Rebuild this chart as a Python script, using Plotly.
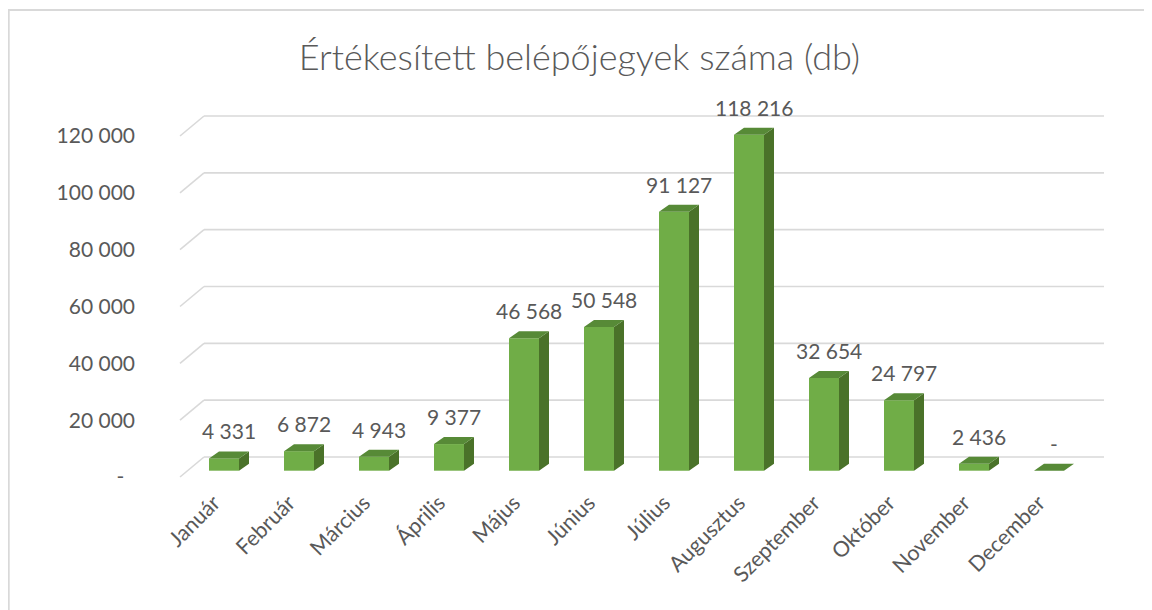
import plotly.graph_objects as go

# ---- data ----
months = ["Január", "Február", "Március", "Április", "Május", "Június",
          "Július", "Augusztus", "Szeptember", "Október", "November", "December"]
tickets = [4331, 6872, 4943, 9377, 46568, 50548, 91127, 118216, 32654, 24797, 2436, 0]
y_ticks = [0, 20000, 40000, 60000, 80000, 100000, 120000]
title_text = "Értékesített belépőjegyek száma (db)"

# ---- styling / geometry (pixel-based pseudo 3D) ----
FONT = "Lato, 'Open Sans', sans-serif"
TXT = "#595959"
GRID = "#D9D9D9"
FRONT = "#70AD47"
TOP = "#578A37"
SIDE = "#4A7229"

OFF = 8  # page body margin compensation
W, H = 1152, 610
ML, MR, MT, MB = 133, 22, 87, 136
PX_X = 75.0                  # px per category
X0_PX = 224.0 - OFF          # px of category 0 centre
PX_Y = 341.0 / 120000        # px per value unit
BASE_PX = 470.7 - OFF        # px of value 0 at bar front

def xd(px):
    return (px - OFF - X0_PX) / PX_X

def yd_off(dpx):  # vertical pixel offset (up positive) -> value units
    return dpx / PX_Y

x_range = [(ML - X0_PX) / PX_X, (W - MR - X0_PX) / PX_X]
y_range = [-(H - MB - BASE_PX) / PX_Y, (BASE_PX - MT) / PX_Y]

bw = 0.4                 # bar width in category units (30 px)
ddx = 10 / PX_X          # depth offset x
ddy = yd_off(7)          # depth offset y
back_dy = yd_off(470.7 - 457)   # back wall offset
back_dx0 = xd(204)
back_dx1 = xd(1104)
front_dy = yd_off(470.7 - 477)
front_x = xd(180)

def fmt(v):
    if v == 0:
        return "-"
    return f"{v:,}".replace(",", " ")

fig = go.Figure()

# gridlines (back wall + floor diagonal)
shapes = []
for t in y_ticks:
    shapes.append(dict(type="line", xref="x", yref="y", layer="below",
                       x0=back_dx0, x1=back_dx1, y0=t + back_dy, y1=t + back_dy,
                       line=dict(color=GRID, width=1.6)))
    shapes.append(dict(type="line", xref="x", yref="y", layer="below",
                       x0=front_x, x1=back_dx0, y0=t + front_dy, y1=t + back_dy,
                       line=dict(color=GRID, width=1.6)))
# chart border
pw, ph = W - ML - MR, H - MT - MB
shapes.append(dict(type="rect", xref="paper", yref="paper",
                   x0=(0.8 - ML) / pw, x1=(W + 20 - ML) / pw,
                   y0=-(MB + 20) / ph, y1=(H - MB - 2) / ph,
                   line=dict(color=GRID, width=1.8), layer="below"))

xs = list(range(len(months)))

# front faces
fig.add_trace(go.Bar(x=xs, y=tickets, width=bw, marker=dict(color=FRONT, line=dict(width=0)),
                     hoverinfo="skip", showlegend=False))

# top and side faces
tx, ty, sx, sy = [], [], [], []
for i, v in zip(xs, tickets):
    tx += [i - bw / 2, i + bw / 2, i + bw / 2 + ddx, i - bw / 2 + ddx, i - bw / 2, None]
    ty += [v, v, v + ddy, v + ddy, v, None]
    sx += [i + bw / 2, i + bw / 2, i + bw / 2 + ddx, i + bw / 2 + ddx, i + bw / 2, None]
    sy += [0, v, v + ddy, ddy, 0, None]
fig.add_trace(go.Scatter(x=sx, y=sy, mode="lines", fill="toself", fillcolor=SIDE,
                         line=dict(width=0, color=SIDE), hoverinfo="skip", showlegend=False))
fig.add_trace(go.Scatter(x=tx, y=ty, mode="lines", fill="toself", fillcolor=TOP,
                         line=dict(width=0, color=TOP), hoverinfo="skip", showlegend=False))

# data labels
annotations = []
for i, v in zip(xs, tickets):
    annotations.append(dict(x=i + ddx / 2, y=v + ddy, xref="x", yref="y", text=fmt(v),
                            showarrow=False, yanchor="bottom", yshift=6,
                            font=dict(family=FONT, size=21, color=TXT)))

fig.update_layout(
    width=W, height=H,
    margin=dict(l=ML, r=MR, t=MT, b=MB),
    paper_bgcolor="white", plot_bgcolor="white",
    title=dict(text=title_text, x=(579.5 - OFF) / W, xref="container", xanchor="center",
               y=1 - (57 - OFF) / H, yref="container", yanchor="middle",
               font=dict(family=FONT, size=36, color=TXT, weight=300)),
    xaxis=dict(range=x_range, tickvals=xs, ticktext=months, tickangle=-45,
               showgrid=False, zeroline=False, showline=False, ticks="",
               ticklabelshift=-10, ticklabelstandoff=3,
               tickfont=dict(family=FONT, size=21.5, color=TXT), fixedrange=True),
    yaxis=dict(range=y_range, tickvals=[t + front_dy for t in y_ticks],
               ticktext=[fmt(t) + ("\u00a0\u00a0" if t == 0 else "") for t in y_ticks],
               showgrid=False, zeroline=False, showline=False, ticks="",
               ticklabelstandoff=5,
               tickfont=dict(family=FONT, size=21, color=TXT), fixedrange=True),
    shapes=shapes, annotations=annotations,
    bargap=0.6,
)

fig.write_html("out.html")
